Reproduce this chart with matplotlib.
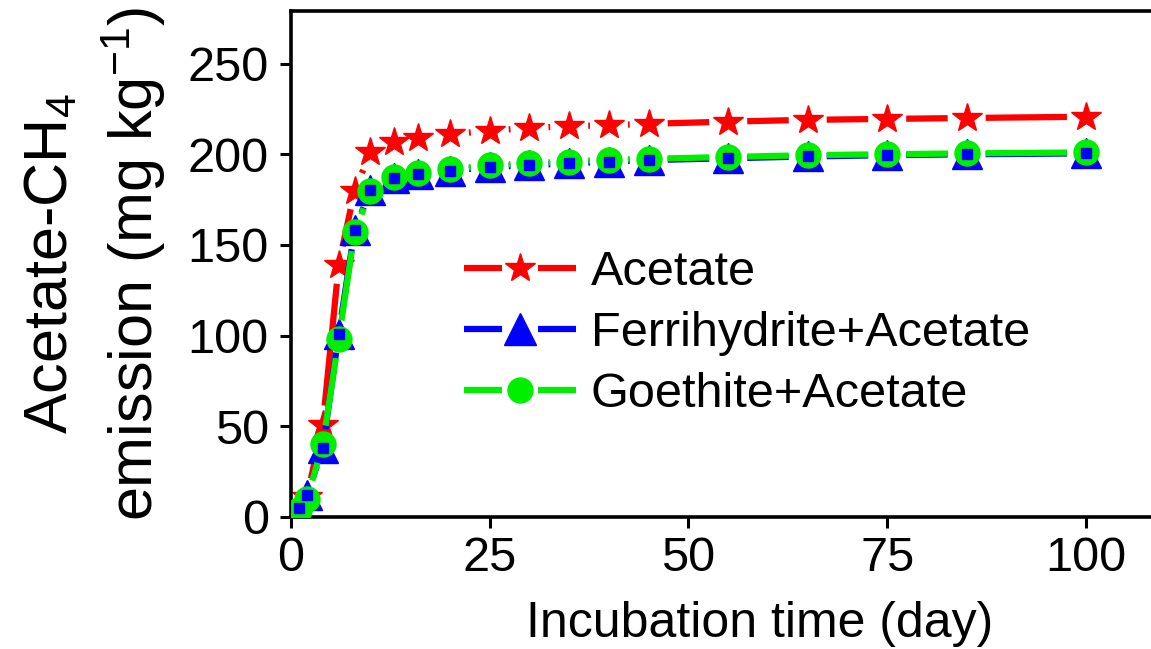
import numpy as np
import matplotlib
matplotlib.use('Agg')
import matplotlib.pyplot as plt
from matplotlib.lines import Line2D

plt.rcParams['font.family'] = ['Liberation Sans', 'DejaVu Sans']
plt.rcParams['mathtext.fontset'] = 'custom'
plt.rcParams['mathtext.rm'] = 'Liberation Sans'
plt.rcParams['mathtext.it'] = 'Liberation Sans:italic'

# incubation days
days = [1, 2, 4, 6, 8, 10, 13, 16, 20, 25, 30, 35, 40, 45, 55, 65, 75, 85, 100]
acetate = [4, 11, 51, 139, 180, 201, 206.5, 209, 211, 213, 214.5, 215.5, 216, 216.8, 218, 219, 219.5, 220, 220.7]
ferri = [5, 12, 38, 101, 158, 180.5, 187, 189, 191, 193, 194, 195, 196, 196.8, 197.8, 198.8, 199.5, 200, 200.5]
goethite = [4, 10, 40, 98, 157, 180, 187.5, 189.5, 191.7, 194, 195, 196, 197, 197.5, 198.5, 199.5, 200, 200.5, 201]

labels = ['Acetate', 'Ferrihydrite+Acetate', 'Goethite+Acetate']
colors = ['#ff0000', '#0000ff', '#00ee00']
markers = ['*', '^', 'o']
msizes = [22, 21, 18]

fig = plt.figure(figsize=(11.51, 6.49), dpi=100)
ax = fig.add_axes([291 / 1151, 1 - 517 / 649, 938 / 1151, 506 / 649])
ax.set_xlim(0, 118)
ax.set_ylim(0, 279)

lw = 4.5
gap = 19  # pixels kept free around each marker


def gapped_line(x, y, color, z):
    # draw line pieces between markers, leaving a gap around each point
    pts = ax.transData.transform(np.column_stack([x, y]))
    inv = ax.transData.inverted()
    for i in range(len(pts) - 1):
        p0, p1 = pts[i], pts[i + 1]
        d = p1 - p0
        L = np.hypot(*d)
        if L <= 2 * gap:
            continue
        u = d / L
        a = inv.transform(p0 + u * gap)
        b = inv.transform(p1 - u * gap)
        ax.plot([a[0], b[0]], [a[1], b[1]], color=color, lw=lw,
                solid_capstyle='butt', zorder=z)


series = [acetate, ferri, goethite]
for k, vals in enumerate(series):
    gapped_line(days, vals, colors[k], 2 + k)
    ax.plot(days, vals, linestyle='none', marker=markers[k], ms=msizes[k],
            color=colors[k], mec=colors[k], zorder=2.5 + k)

# small blue squares on top (ferrihydrite error caps)
ax.plot(days, ferri, linestyle='none', marker='s', ms=6.5, color='#0000ff', zorder=6)

for side in ['left', 'bottom', 'top']:
    ax.spines[side].set_linewidth(2.6)
ax.spines['right'].set_visible(False)

ax.set_xticks([0, 25, 50, 75, 100])
ax.set_yticks([0, 50, 100, 150, 200, 250])
ax.tick_params(axis='both', labelsize=35, length=8, width=2.2, pad=6)
ax.tick_params(axis='y', pad=8)

ax.set_xlabel('Incubation time (day)', fontsize=36, labelpad=14)
ax.set_ylabel('Acetate-CH$_4$\nemission (mg kg$^{-1}$)', fontsize=44,
              linespacing=1.35, labelpad=14)

handles = []
for k in range(3):
    handles.append(Line2D([], [], color=colors[k], lw=lw, marker=markers[k],
                          ms=msizes[k] + (2 if k == 1 else 0), mec=colors[k],
                          dashes=(27.4 / lw, 25.9 / lw), dash_capstyle='butt'))
leg = ax.legend(handles, labels, loc='upper left', bbox_to_anchor=(0.164, 0.567),
                frameon=False, fontsize=35, handlelength=2.3, handletextpad=0.3,
                labelspacing=0.33, borderaxespad=0)

fig.savefig('out.png', dpi=100)
